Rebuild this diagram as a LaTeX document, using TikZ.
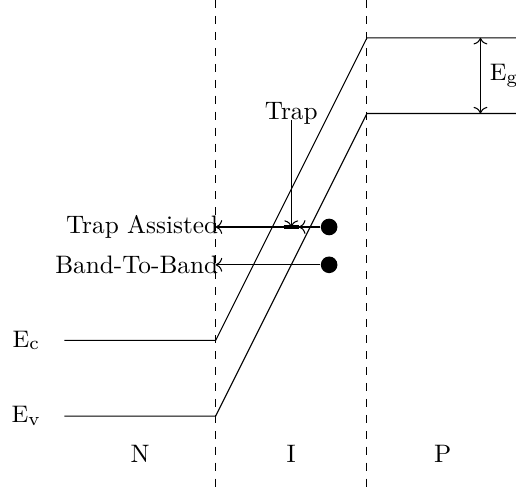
\documentclass[tikz,border=0pt]{standalone}
\usetikzlibrary{arrows.meta, positioning}

\tikzset{
    every node/.style={font=\fontsize{9.5pt}{11pt}\selectfont},
    boundary/.style={dashed},
    carrier/.style={circle, fill=black, inner sep=0pt, minimum size=0.22cm},
    trapbar/.style={line width=1.2pt},
    levellabel/.style={inner sep=0pt, anchor=east, xshift=0.04cm}
}

\begin{document}
\begin{tikzpicture}
    \useasboundingbox (-0.85,-1) rectangle (5.97,5.5);

    % region boundaries
    \coordinate (nitop) at (2,5.5);
    \coordinate (nibot) at (2,-1);
    \coordinate (iptop) at (4,5.5);
    \coordinate (ipbot) at (4,-1);
    \draw[boundary] (nitop) -- (nibot);
    \draw[boundary] (iptop) -- (ipbot);

    % band edges
    \coordinate (c0) at (0,1);
    \coordinate (c1) at (2,1);
    \coordinate (c2) at (4,5);
    \coordinate (c3) at (6,5);
    \coordinate (v0) at (0,0);
    \coordinate (v1) at (2,0);
    \coordinate (v2) at (4,4);
    \coordinate (v3) at (6,4);
    \draw (c0) -- (c1) -- (c2) -- (c3);
    \draw (v0) -- (v1) -- (v2) -- (v3);
    \node (ec) at (-0.5,1) {$\mathrm{E_c}$};
    \node (ev) at (-0.5,0) {$\mathrm{E_v}$};

    % band gap
    \coordinate (gtop) at (5.5,5);
    \coordinate (gbot) at (5.5,4);
    \draw[<->] (gtop) -- (gbot) node[midway, right] (eg) {$\mathrm{E_g}$};

    % regions
    \node (nreg) at (1,-0.5) {N};
    \node (ireg) at (3,-0.5) {I};
    \node (preg) at (5,-0.5) {P};

    % trap level
    \node (trap) at (3,4) {Trap};
    \coordinate (trapl) at (2.9,2.5);
    \coordinate (trapr) at (3.1,2.5);
    \coordinate (trapc) at (3,2.5);
    \draw[trapbar] (trapl) -- (trapr);
    \draw[->] (trap.base) -- (trapc);

    % tunnelling electrons
    \node[carrier] (etat) at (3.5,2.5) {};
    \node[carrier] (ebtb) at (3.5,2) {};
    \coordinate (tatend) at (2,2.5);
    \coordinate (btbend) at (2,2);
    \draw[->] (etat) -- (trapr);
    \draw[->] (etat) -- (tatend);
    \draw[->] (ebtb) -- (btbend);
    \node[levellabel] (tat) at (tatend) {Trap Assisted};
    \node[levellabel] (btb) at (btbend) {Band-To-Band};
\end{tikzpicture}
\end{document}
